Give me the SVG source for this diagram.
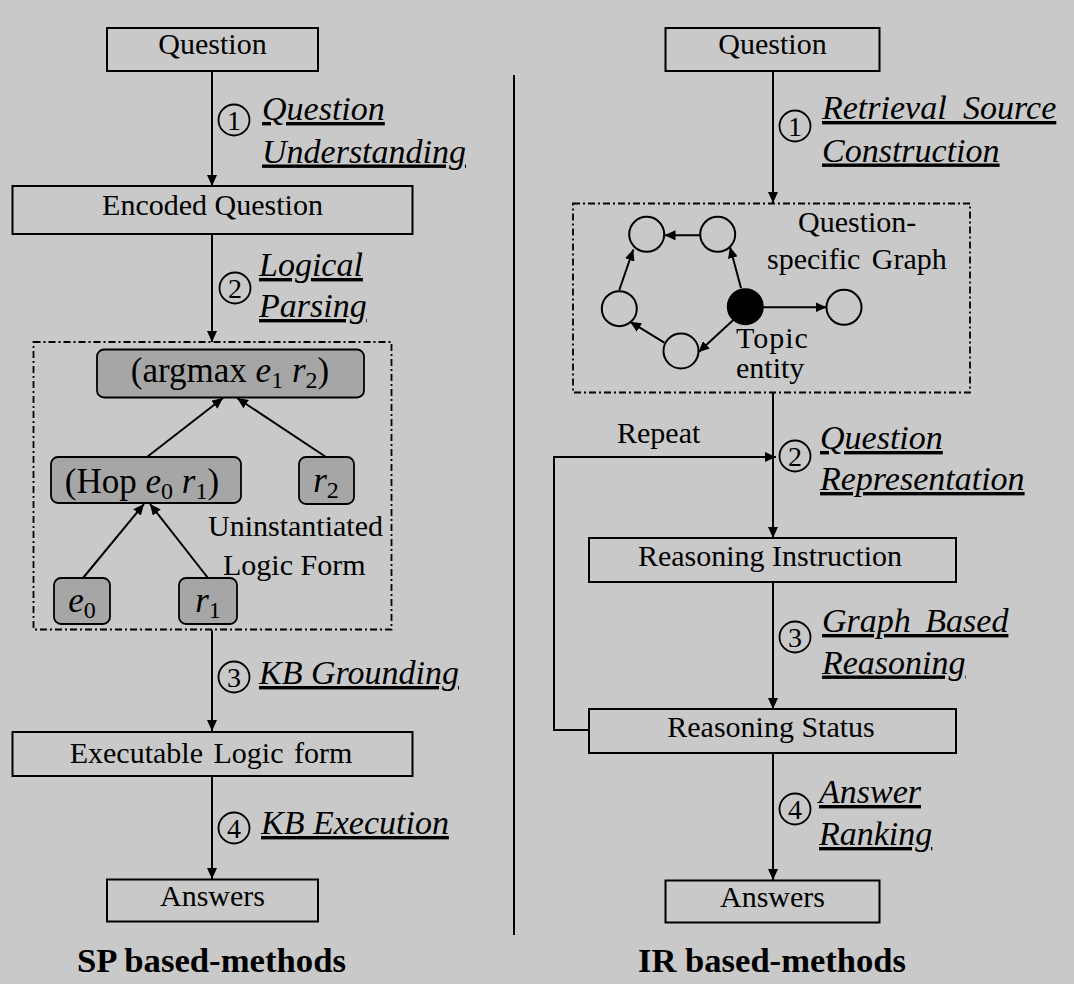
<svg xmlns="http://www.w3.org/2000/svg" width="1074" height="984" viewBox="0 0 1074 984">
  <defs>
    <marker id="arr" markerUnits="userSpaceOnUse" markerWidth="12" markerHeight="10" refX="11" refY="5" orient="auto">
      <path d="M0,0 L11,5 L0,10 z" fill="#000"/>
    </marker>
    <style>
      .box { fill: none; stroke: #000; stroke-width: 2; }
      .gbox { fill: #a6a6a6; stroke: #000; stroke-width: 1.8; }
      .dash { fill: none; stroke: #000; stroke-width: 1.8; stroke-dasharray: 7 3 2 3; }
      .ln { fill: none; stroke: #000; stroke-width: 2; marker-end: url(#arr); }
      .t { font-family: "Liberation Serif", "Times New Roman", serif; font-size: 30px; fill: #000; }
      .c { text-anchor: middle; }
      .lab { font-family: "Liberation Serif", "Times New Roman", serif; font-size: 34px; font-style: italic; fill: #000; text-decoration: underline; }
      .num { font-family: "Liberation Serif", "Times New Roman", serif; font-size: 28px; fill: #000; text-anchor: middle; }
      .circ { fill: none; stroke: #000; stroke-width: 1.8; }
      .m { font-family: "Liberation Serif", "Times New Roman", serif; font-size: 35px; fill: #000; }
      .it { font-style: italic; }
      .node { fill: none; stroke: #000; stroke-width: 2; }
      .title { font-family: "Liberation Serif", "Times New Roman", serif; font-size: 33px; font-weight: bold; fill: #000; }
    </style>
  </defs>
  <rect x="0" y="0" width="1074" height="984" fill="#c9c9c9"/>

  <!-- divider -->
  <line x1="514" y1="75" x2="514" y2="935" stroke="#000" stroke-width="2"/>

  <!-- connectors -->
  <g id="connectors">
    <line class="ln" x1="212" y1="71" x2="212" y2="186"/>
    <line class="ln" x1="212" y1="234" x2="212" y2="342"/>
    <line class="ln" x1="212" y1="630" x2="212" y2="731"/>
    <line class="ln" x1="212" y1="776" x2="212" y2="879"/>
    <line class="ln" x1="147" y1="457" x2="223" y2="398"/>
    <line class="ln" x1="326" y1="457" x2="237" y2="398"/>
    <line class="ln" x1="83" y1="578" x2="144" y2="504"/>
    <line class="ln" x1="208" y1="578" x2="150" y2="504"/>

    <line class="ln" x1="773" y1="71" x2="773" y2="203"/>
    <line class="ln" x1="773" y1="392" x2="773" y2="538"/>
    <line class="ln" x1="773" y1="582" x2="773" y2="709"/>
    <line class="ln" x1="773" y1="753" x2="773" y2="880"/>
    <polyline class="ln" points="589,730 554,730 554,457 776,457"/>

    <line class="ln" x1="741" y1="288" x2="730" y2="247"/>
    <line class="ln" x1="700" y1="235.3" x2="664.5" y2="235.3"/>
    <line class="ln" x1="619.3" y1="290" x2="633.3" y2="249.5"/>
    <line class="ln" x1="664.3" y1="342.7" x2="630" y2="321.7"/>
    <line class="ln" x1="733.3" y1="320" x2="698.3" y2="352.3"/>
    <line class="ln" x1="762.7" y1="307.3" x2="826.5" y2="307.3"/>
  </g>

  <!-- LEFT: SP -->
  <g id="sp-question">
    <rect class="box" x="107" y="28" width="211" height="43"/>
    <text class="t c" x="212.5" y="54">Question</text>
  </g>
  <g id="sp-step1">
    <circle class="circ" cx="234" cy="120" r="15.5"/>
    <text class="num" x="234" y="129.5">1</text>
    <text class="lab" x="262" y="120">Question</text>
    <text class="lab" x="262" y="162.5">Understanding</text>
  </g>
  <g id="sp-encoded">
    <rect class="box" x="12.5" y="186" width="400" height="48"/>
    <text class="t c" x="212.5" y="215">Encoded Question</text>
  </g>
  <g id="sp-step2">
    <circle class="circ" cx="235" cy="288" r="15.5"/>
    <text class="num" x="235" y="297.5">2</text>
    <text class="lab" x="259" y="276">Logical</text>
    <text class="lab" x="259" y="317">Parsing</text>
  </g>
  <g id="sp-logicform">
    <rect class="dash" x="33.5" y="342" width="358" height="287.5"/>
    <text class="t" x="208" y="536" font-size="28">Uninstantiated</text>
    <text class="t" x="223" y="575" font-size="28">Logic Form</text>
  </g>
  <g id="sp-argmax">
    <rect class="gbox" x="97" y="349.5" width="267" height="48" rx="7"/>
    <text class="m" x="230" y="382" text-anchor="middle">(argmax <tspan class="it">e</tspan><tspan font-size="24" dy="6">1</tspan><tspan dy="-6"> </tspan><tspan class="it">r</tspan><tspan font-size="24" dy="6">2</tspan><tspan dy="-6">)</tspan></text>
  </g>
  <g id="sp-hop">
    <rect class="gbox" x="51" y="457" width="190" height="46" rx="7"/>
    <text class="m" x="142" y="493" text-anchor="middle">(Hop <tspan class="it">e</tspan><tspan font-size="24" dy="6">0</tspan><tspan dy="-6"> </tspan><tspan class="it">r</tspan><tspan font-size="24" dy="6">1</tspan><tspan dy="-6">)</tspan></text>
  </g>
  <g id="sp-r2">
    <rect class="gbox" x="299" y="457" width="55" height="47" rx="7"/>
    <text class="m" x="326" y="492" text-anchor="middle"><tspan class="it">r</tspan><tspan font-size="24" dy="6">2</tspan></text>
  </g>
  <g id="sp-e0">
    <rect class="gbox" x="54" y="578" width="56" height="46" rx="7"/>
    <text class="m" x="82" y="612" text-anchor="middle"><tspan class="it">e</tspan><tspan font-size="24" dy="6">0</tspan></text>
  </g>
  <g id="sp-r1">
    <rect class="gbox" x="179" y="578" width="58" height="46" rx="7"/>
    <text class="m" x="208" y="612" text-anchor="middle"><tspan class="it">r</tspan><tspan font-size="24" dy="6">1</tspan></text>
  </g>
  <g id="sp-step3">
    <circle class="circ" cx="234" cy="677" r="15.5"/>
    <text class="num" x="234" y="686.5">3</text>
    <text class="lab" x="259" y="684">KB Grounding</text>
  </g>
  <g id="sp-executable">
    <rect class="box" x="12.5" y="732" width="400" height="44"/>
    <text class="t c" x="211" y="763" word-spacing="3">Executable Logic form</text>
  </g>
  <g id="sp-step4">
    <circle class="circ" cx="234" cy="828" r="15.5"/>
    <text class="num" x="234" y="837.5">4</text>
    <text class="lab" x="261" y="834">KB Execution</text>
  </g>
  <g id="sp-answers">
    <rect class="box" x="107" y="879.5" width="211" height="42"/>
    <text class="t c" x="212.5" y="906">Answers</text>
  </g>
  <text class="title" x="77" y="972" textLength="269" lengthAdjust="spacingAndGlyphs">SP based-methods</text>

  <!-- RIGHT: IR -->
  <g id="ir-question">
    <rect class="box" x="665.5" y="28" width="214" height="43"/>
    <text class="t c" x="772.5" y="54">Question</text>
  </g>
  <g id="ir-step1">
    <circle class="circ" cx="795" cy="126" r="15.5"/>
    <text class="num" x="795" y="135.5">1</text>
    <text class="lab" x="822" y="119" word-spacing="8">Retrieval Source</text>
    <text class="lab" x="822" y="161.5">Construction</text>
  </g>
  <g id="ir-graph">
    <rect class="dash" x="573" y="203.5" width="397" height="189"/>
    <circle class="node" cx="646.7" cy="234.3" r="17.5"/>
    <circle class="node" cx="717.7" cy="234.3" r="17.5"/>
    <circle class="node" cx="619.3" cy="308.7" r="17.5"/>
    <circle class="node" cx="681" cy="351" r="17.5"/>
    <circle cx="745.3" cy="306.7" r="17.5" fill="#000" stroke="#000" stroke-width="2"/>
    <circle class="node" cx="844" cy="307.3" r="17.5"/>
    <text class="t" x="798" y="232" font-size="29">Question-</text>
    <text class="t" x="767" y="269" font-size="29" word-spacing="4">specific Graph</text>
    <text class="t" x="736" y="348" font-size="24" letter-spacing="1">Topic</text>
    <text class="t" x="736" y="378" font-size="24">entity</text>
  </g>
  <g id="ir-repeat">
    <text class="t" x="617" y="442.5">Repeat</text>
  </g>
  <g id="ir-step2">
    <circle class="circ" cx="795" cy="456" r="15.5"/>
    <text class="num" x="795" y="465.5">2</text>
    <text class="lab" x="820" y="449">Question</text>
    <text class="lab" x="820" y="490">Representation</text>
  </g>
  <g id="ir-instruction">
    <rect class="box" x="589" y="538" width="367" height="44"/>
    <text class="t c" x="770" y="566">Reasoning Instruction</text>
  </g>
  <g id="ir-step3">
    <circle class="circ" cx="795" cy="637" r="15.5"/>
    <text class="num" x="795" y="646.5">3</text>
    <text class="lab" x="822" y="632" word-spacing="6">Graph Based</text>
    <text class="lab" x="822" y="673.5">Reasoning</text>
  </g>
  <g id="ir-status">
    <rect class="box" x="589" y="709" width="367" height="44"/>
    <text class="t c" x="771" y="737">Reasoning Status</text>
  </g>
  <g id="ir-step4">
    <circle class="circ" cx="795" cy="809" r="15.5"/>
    <text class="num" x="795" y="818.5">4</text>
    <text class="lab" x="819" y="803">Answer</text>
    <text class="lab" x="819" y="845">Ranking</text>
  </g>
  <g id="ir-answers">
    <rect class="box" x="665.5" y="880.5" width="214" height="42"/>
    <text class="t c" x="772.5" y="906.5">Answers</text>
  </g>
  <text class="title" x="638" y="972" textLength="268" lengthAdjust="spacingAndGlyphs">IR based-methods</text>
</svg>
